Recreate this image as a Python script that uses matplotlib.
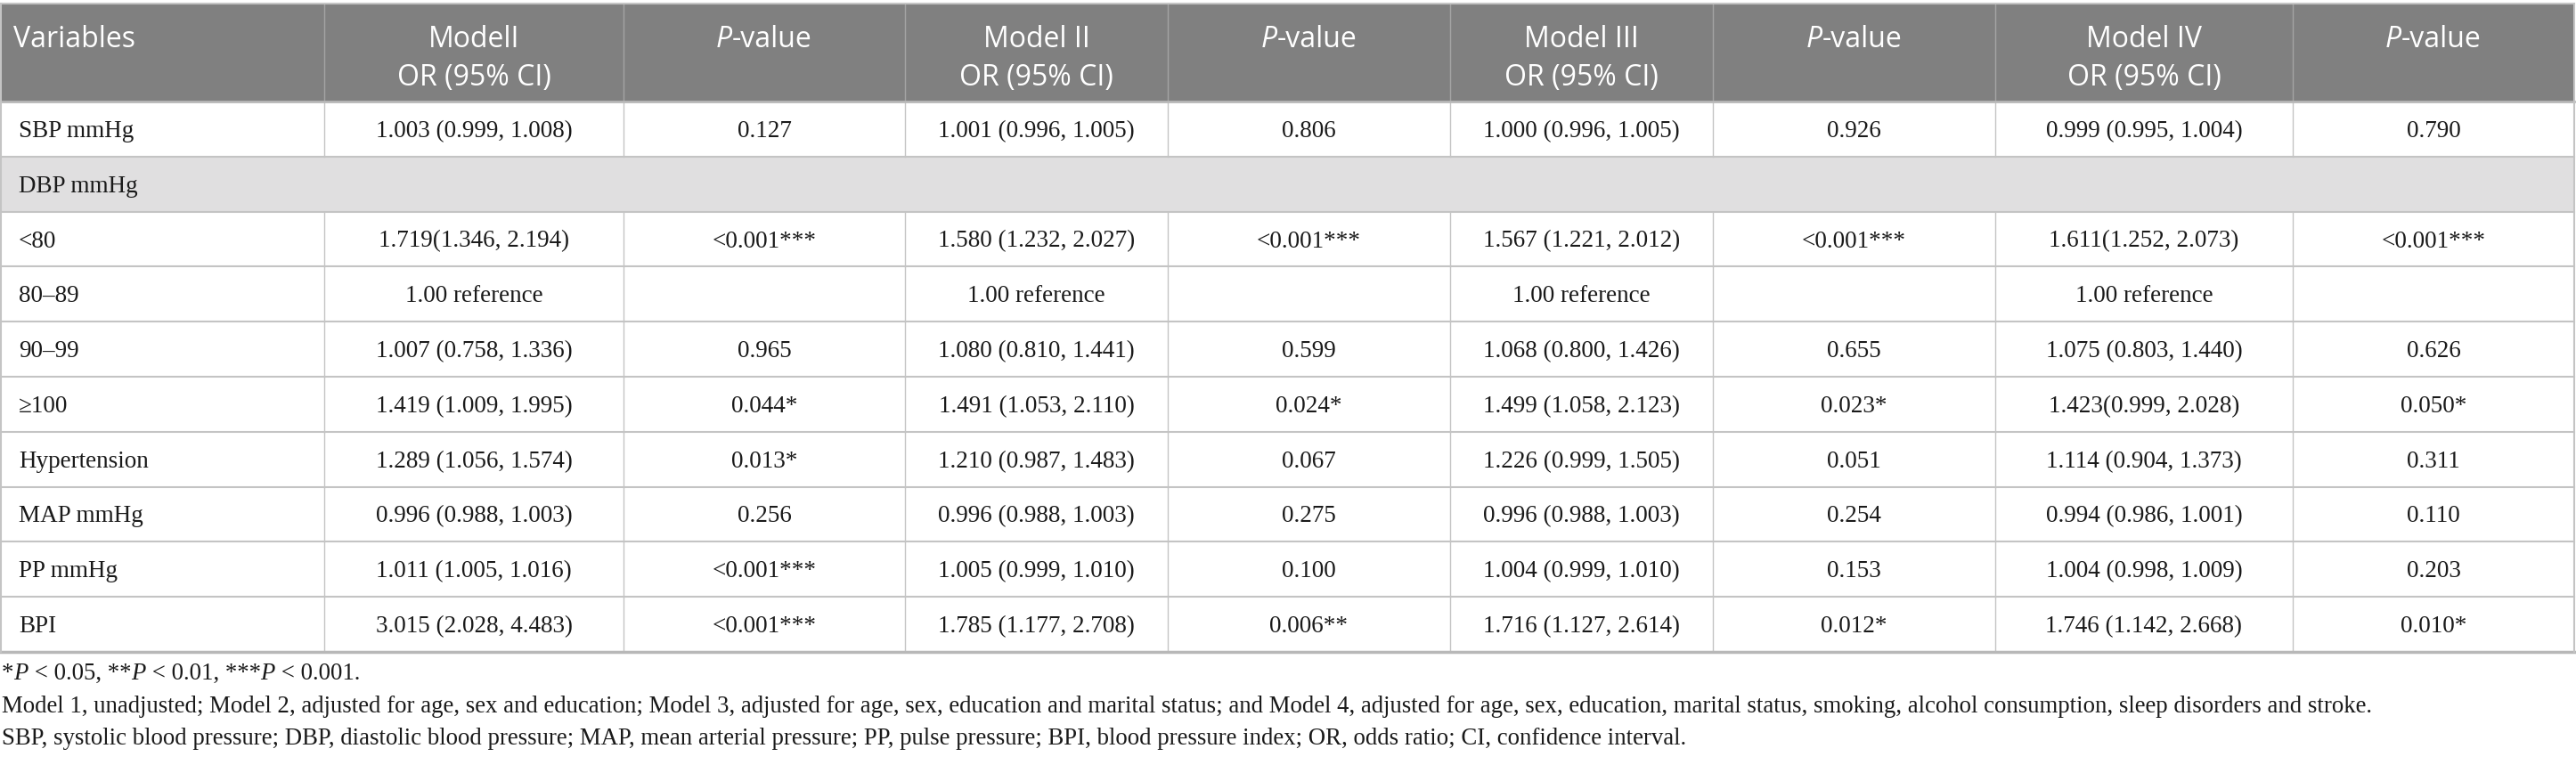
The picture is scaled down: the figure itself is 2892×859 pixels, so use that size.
import matplotlib
matplotlib.use('Agg')
import matplotlib.pyplot as plt
from matplotlib.patches import Rectangle

# table content
variables = ['SBP mmHg', 'DBP mmHg', '<80', '80–89', '90–99', '≥100',
             'Hypertension', 'MAP mmHg', 'PP mmHg', 'BPI']
model1_or = ['1.003 (0.999, 1.008)', '', '1.719(1.346, 2.194)', '1.00 reference',
             '1.007 (0.758, 1.336)', '1.419 (1.009, 1.995)', '1.289 (1.056, 1.574)',
             '0.996 (0.988, 1.003)', '1.011 (1.005, 1.016)', '3.015 (2.028, 4.483)']
model1_p = ['0.127', '', '<0.001***', '', '0.965', '0.044*', '0.013*', '0.256',
            '<0.001***', '<0.001***']
model2_or = ['1.001 (0.996, 1.005)', '', '1.580 (1.232, 2.027)', '1.00 reference',
             '1.080 (0.810, 1.441)', '1.491 (1.053, 2.110)', '1.210 (0.987, 1.483)',
             '0.996 (0.988, 1.003)', '1.005 (0.999, 1.010)', '1.785 (1.177, 2.708)']
model2_p = ['0.806', '', '<0.001***', '', '0.599', '0.024*', '0.067', '0.275',
            '0.100', '0.006**']
model3_or = ['1.000 (0.996, 1.005)', '', '1.567 (1.221, 2.012)', '1.00 reference',
             '1.068 (0.800, 1.426)', '1.499 (1.058, 2.123)', '1.226 (0.999, 1.505)',
             '0.996 (0.988, 1.003)', '1.004 (0.999, 1.010)', '1.716 (1.127, 2.614)']
model3_p = ['0.926', '', '<0.001***', '', '0.655', '0.023*', '0.051', '0.254',
            '0.153', '0.012*']
model4_or = ['0.999 (0.995, 1.004)', '', '1.611(1.252, 2.073)', '1.00 reference',
             '1.075 (0.803, 1.440)', '1.423(0.999, 2.028)', '1.114 (0.904, 1.373)',
             '0.994 (0.986, 1.001)', '1.004 (0.998, 1.009)', '1.746 (1.142, 2.668)']
model4_p = ['0.790', '', '<0.001***', '', '0.626', '0.050*', '0.311', '0.110',
            '0.203', '0.010*']
model_names = ['ModelI', 'Model II', 'Model III', 'Model IV']
section_rows = ['DBP mmHg']

footnote_sig = [('*', 'n'), ('P', 'i'), (' < 0.05, **', 'n'), ('P', 'i'),
                (' < 0.01, ***', 'n'), ('P', 'i'), (' < 0.001.', 'n')]
footnote_models = ('Model 1, unadjusted; Model 2, adjusted for age, sex and education; '
                   'Model 3, adjusted for age, sex, education and marital status; and '
                   'Model 4, adjusted for age, sex, education, marital status, smoking, '
                   'alcohol consumption, sleep disorders and stroke.')
footnote_abbr = ('SBP, systolic blood pressure; DBP, diastolic blood pressure; MAP, mean '
                 'arterial pressure; PP, pulse pressure; BPI, blood pressure index; '
                 'OR, odds ratio; CI, confidence interval.')

# layout (pixels)
W, H = 2892, 859
col_edges = [0, 364, 700, 1016, 1311, 1628, 1923, 2240, 2574, 2890]
head_top, head_bot = 4, 114
row_h = 61.8
header_bg = '#808080'
section_bg = '#e0dfe0'
line_col = '#c4c4c4'
serif = 'Liberation Serif'
sans = 'Open Sans'
body_size = 19.5
head_size = 23
note_size = 19.3

fig = plt.figure(figsize=(W / 100, H / 100), dpi=100)
ax = fig.add_axes([0, 0, 1, 1])
ax.set_xlim(0, W)
ax.set_ylim(H, 0)
ax.axis('off')
renderer = fig.canvas.get_renderer()


def draw_runs(x, y, runs, ha='left', **kw):
    # draw text made of plain / italic pieces next to each other
    widths = []
    for s, st in runs:
        t = ax.text(0, 0, s, style='italic' if st == 'i' else 'normal', **kw)
        widths.append(t.get_window_extent(renderer).width)
        t.remove()
    total = sum(widths)
    cx = x - total / 2 if ha == 'center' else x
    for (s, st), w in zip(runs, widths):
        ax.text(cx, y, s, style='italic' if st == 'i' else 'normal', ha='left', **kw)
        cx += w


# header
ax.add_patch(Rectangle((0, head_top), col_edges[-1], head_bot - head_top,
                       facecolor=header_bg, edgecolor='none'))
hkw = dict(family=sans, fontsize=head_size, color='white', va='baseline')
ax.text(col_edges[0] + 15, 53, 'Variables', **hkw)
for i, name in enumerate(model_names):
    c0 = col_edges[1 + 2 * i]
    c1 = col_edges[2 + 2 * i]
    c2 = col_edges[3 + 2 * i]
    ax.text((c0 + c1) / 2, 53, name, ha='center', **hkw)
    ax.text((c0 + c1) / 2, 96, 'OR (95% CI)', ha='center', **hkw)
    draw_runs((c1 + c2) / 2, 53, [('P', 'i'), ('-value', 'n')], ha='center', **hkw)
for x in col_edges[1:-1]:
    ax.plot([x, x], [head_top, head_bot], color='#a4a4a4', lw=1)

# body rows
columns = [model1_or, model1_p, model2_or, model2_p, model3_or, model3_p,
           model4_or, model4_p]
bkw = dict(family=serif, fontsize=body_size, color='#1a1a1a', va='baseline')
n = len(variables)
for r, var in enumerate(variables):
    top = head_bot + r * row_h
    bot = top + row_h
    mid = (top + bot) / 2
    if var in section_rows:
        ax.add_patch(Rectangle((0, top), col_edges[-1], row_h,
                               facecolor=section_bg, edgecolor='none'))
    else:
        for x in col_edges[1:-1]:
            ax.plot([x, x], [top, bot], color=line_col, lw=1)
    ax.text(col_edges[0] + 21, mid + 9, var, **bkw)
    for c, vals in enumerate(columns):
        xc = (col_edges[c + 1] + col_edges[c + 2]) / 2
        ax.text(xc, mid + 9, vals[r], ha='center', **bkw)
    ax.plot([0, col_edges[-1]], [bot, bot], color=line_col, lw=1.5)

table_bot = head_bot + n * row_h
ax.plot([0, col_edges[-1]], [head_top, head_top], color=line_col, lw=1.5)
ax.plot([0, col_edges[-1]], [head_bot, head_bot], color='#b8b8b8', lw=2)
ax.plot([0, col_edges[-1]], [table_bot, table_bot], color='#b8b8b8', lw=2.5)
ax.plot([0.5, 0.5], [head_top, table_bot], color=line_col, lw=1.5)
ax.plot([col_edges[-1], col_edges[-1]], [head_top, table_bot], color=line_col, lw=1.5)

# footnotes
nkw = dict(family=serif, fontsize=note_size, color='#1a1a1a', va='baseline')
draw_runs(2, 763, footnote_sig, **nkw)
ax.text(2, 800, footnote_models, **nkw)
ax.text(2, 836, footnote_abbr, **nkw)

fig.savefig('out.png', dpi=100)
